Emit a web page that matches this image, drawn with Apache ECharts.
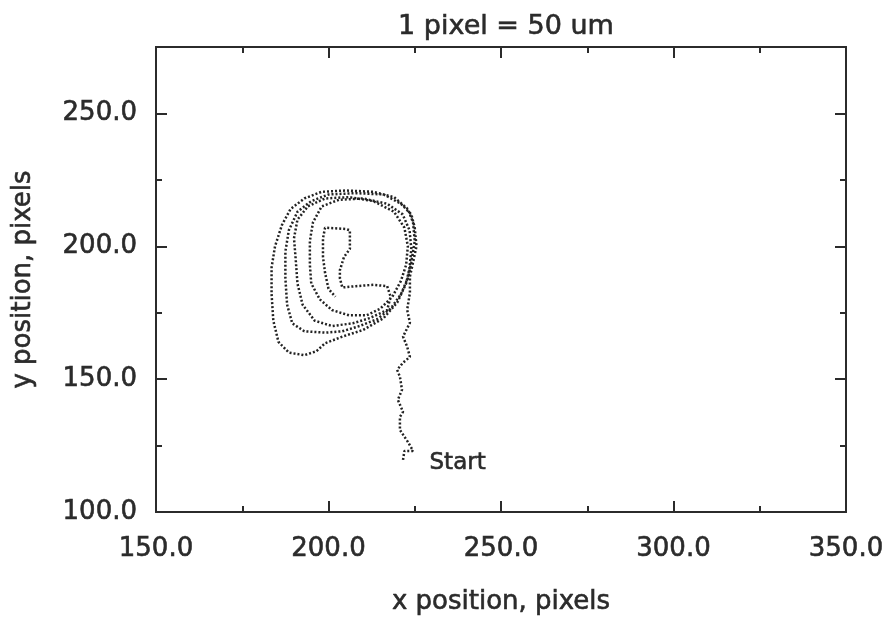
<!DOCTYPE html>
<html>
<head>
<meta charset="utf-8">
<script src="https://cdn.jsdelivr.net/npm/echarts@6/dist/echarts.min.js"></script>
<style>
  html, body { margin: 0; padding: 0; background: #fff; }
  #chart { width: 889px; height: 626px; }
</style>
</head>
<body>
<div id="chart"></div>
<script>
// track of the cell, in image pixels (x, y)
const approach = [
  [221.6, 119.6], [222.0, 123.0], [224.5, 123.0], [223.0, 126.4], [220.7, 130.9],
  [220.7, 135.8], [221.6, 137.7], [220.1, 142.2], [221.3, 146.0], [220.7, 150.9],
  [219.9, 153.5], [221.6, 156.2], [223.6, 158.4], [222.8, 162.2], [221.6, 166.0],
  [223.6, 171.2], [222.8, 176.1], [223.6, 182.5], [223.6, 188.6], [224.5, 193.9]
];
const loop1 = [
  [225.5, 200], [225, 207], [224, 212], [221, 216], [216, 219.5], [208, 220],
  [200, 219.5], [195, 217], [191, 213], [188.5, 206], [187.5, 198], [187.5, 188],
  [188, 178], [189.5, 171], [193, 168], [199, 167.5], [204, 168], [209, 170],
  [214, 172.5], [218, 176.5], [221, 182], [223, 188], [224, 194]
];
const loop2 = [
  [225, 202], [224.5, 209], [223, 214], [219, 218.5], [213, 220.5], [205, 221],
  [198, 220.5], [193, 218], [189, 214], [186.5, 208], [184.5, 200], [183.5, 192],
  [183.5, 182], [184, 172], [185.5, 164], [188.5, 160], [193, 159], [196.5, 160.5],
  [199, 163.5], [204, 166], [210, 168.5], [216, 173], [220, 179], [222.5, 186], [223.5, 192]
];
const loop3 = [
  [224, 199], [223.5, 206], [221.5, 212], [217, 216], [210, 218], [203, 217.5],
  [198, 215], [195.5, 209], [194.6, 202], [194.6, 193], [195, 186], [197.5, 180],
  [201, 176], [206, 174], [211, 174], [215, 176.5], [218.5, 181], [221, 187], [222.5, 193]
];
const loop4 = [
  [223, 200], [222, 207], [219, 213], [213, 217], [206, 218.5], [199, 218],
  [194, 215], [191, 210], [190, 203], [190.5, 195], [191, 186], [192.5, 178],
  [196, 172], [201, 170], [207, 171], [212, 173], [217, 176]
];
const inner = [
  [218, 181], [217, 185], [213, 185.5], [208, 185], [204, 184.5], [203.3, 188],
  [203.3, 191], [204.5, 196], [206.2, 199], [206.2, 206], [205, 206.5], [199, 207],
  [198.4, 203], [198.4, 196], [199, 190], [200, 184], [202, 181]
];

const xTicks = [150, 350, 50];   // min, max, interval
const yTicks = [100, 275, 50];

const track = approach.concat(loop1, loop2, loop3, loop4, inner);

const FONT = 'DejaVu Sans';
const INK = '#2b2b2b';
// thin outline in the same colour, to thicken the strokes like the plotter font
const HEAVY = { textBorderColor: INK, textBorderWidth: 0.6 };

const chart = echarts.init(document.getElementById('chart'));

function axisBase(extra) {
  return Object.assign({
    type: 'value',
    splitLine: { show: false },
    axisLine: { show: true, lineStyle: { color: INK, width: 2 } },
    axisTick: { show: true, inside: true, length: 11, lineStyle: { color: INK, width: 2 } },
    axisLabel: { show: false }
  }, extra);
}

chart.setOption({
  backgroundColor: '#fff',
  animation: false,
  title: {
    text: '1 pixel = 50 um',
    left: 501, top: 8, textAlign: 'center',
    textStyle: Object.assign({ fontFamily: FONT, fontSize: 27, fontWeight: 'normal', color: INK }, HEAVY)
  },
  grid: { left: 156, right: 43, top: 47, bottom: 114 },
  xAxis: [
    axisBase({
      position: 'bottom', min: xTicks[0], max: xTicks[1], interval: xTicks[2],
      name: 'x position, pixels', nameLocation: 'middle', nameGap: 77,
      nameTextStyle: Object.assign({ fontFamily: FONT, fontSize: 26, color: INK }, HEAVY),
      minorTick: { show: true, splitNumber: 2, length: 6, lineStyle: { color: INK, width: 2 } },
      axisLabel: Object.assign({
        show: true, margin: 24, fontFamily: FONT, fontSize: 26, color: INK,
        formatter: v => v.toFixed(1)
      }, HEAVY)
    }),
    axisBase({
      position: 'top', min: xTicks[0], max: xTicks[1], interval: xTicks[2],
      minorTick: { show: true, splitNumber: 2, length: 6, lineStyle: { color: INK, width: 2 } }
    })
  ],
  yAxis: [
    axisBase({
      position: 'left', min: yTicks[0], max: yTicks[1], interval: yTicks[2],
      name: 'y position, pixels', nameLocation: 'middle', nameGap: 120,
      nameTextStyle: Object.assign({ fontFamily: FONT, fontSize: 26, color: INK }, HEAVY),
      axisLabel: Object.assign({
        show: true, margin: 19, fontFamily: FONT, fontSize: 26, color: INK,
        showMaxLabel: false, formatter: v => v.toFixed(1)
      }, HEAVY)
    }),
    axisBase({
      position: 'left', min: yTicks[0], max: yTicks[1], interval: yTicks[2] / 2,
      axisTick: { show: true, inside: true, length: 6, lineStyle: { color: INK, width: 2 } }
    }),
    axisBase({
      position: 'right', min: yTicks[0], max: yTicks[1], interval: yTicks[2]
    }),
    axisBase({
      position: 'right', min: yTicks[0], max: yTicks[1], interval: yTicks[2] / 2,
      axisTick: { show: true, inside: true, length: 6, lineStyle: { color: INK, width: 2 } }
    })
  ],
  series: [{
    type: 'line',
    xAxisIndex: 0,
    yAxisIndex: 0,
    data: track,
    showSymbol: false,
    symbol: 'none',
    lineStyle: { color: '#222', width: 2.5, type: [2, 2] }
  }, {
    // label marking where the track begins
    type: 'scatter',
    xAxisIndex: 0,
    yAxisIndex: 0,
    data: [approach[0]],
    symbolSize: 1,
    itemStyle: { color: 'transparent', opacity: 1 },
    label: Object.assign({
      show: true, formatter: 'Start', position: 'right', distance: 26, offset: [0, 3],
      fontFamily: FONT, fontSize: 23, color: INK
    }, HEAVY)
  }]
});
</script>
</body>
</html>
